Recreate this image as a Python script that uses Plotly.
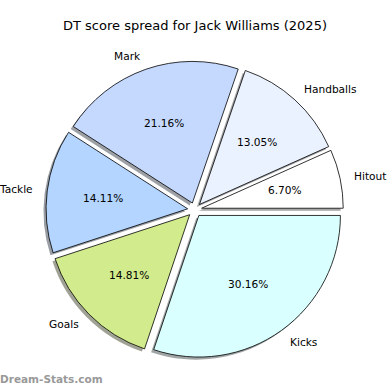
import math
import plotly.graph_objects as go

# ---- data ----
categories = ["Hitout", "Handballs", "Mark", "Tackle", "Goals", "Kicks"]
values = [6.70, 13.05, 21.16, 14.11, 14.81, 30.16]
colors = ["#ffffff", "#eaf1ff", "#c5d9ff", "#b3d5ff", "#d2eb8c", "#d9ffff"]
title_text = "DT score spread for Jack Williams (2025)"
watermark = "Dream-Stats.com"

# ---- geometry (pixels, figure is 390x390 with zero margins) ----
W = H = 390
CX, CY = 194.7, 209.7      # pie centre (from top-left)
R = 141.6                  # pie radius
PULL = 0.05
SH = 2.6                   # shadow offset (left / down) in px

total = sum(values)
# plotly counterclockwise: first slice ends (clockwise sense) at `rotation`;
# we want the first slice to start at 3 o'clock like matplotlib startangle=0
ROT = 90 - values[0] / total * 360

box = R * 2 * (1 + PULL)
def dom(cx, cy):
    yu = H - cy
    return dict(x=[(cx - box / 2) / W, (cx + box / 2) / W],
                y=[(yu - box / 2) / H, (yu + box / 2) / H])

def shadow_col(hexc):
    r, g, b = (int(hexc[i:i + 2], 16) for i in (1, 3, 5))
    return f"rgba({int(r*0.3)},{int(g*0.3)},{int(b*0.3)},0.5)"

fig = go.Figure()
fig.add_trace(go.Pie(
    values=values, labels=categories, sort=False, direction="counterclockwise",
    rotation=ROT, pull=[PULL] * len(values), textinfo="none", hoverinfo="skip",
    marker=dict(colors=[shadow_col(c) for c in colors], line=dict(width=0)),
    domain=dom(CX - SH, CY + SH), showlegend=False,
))
fig.add_trace(go.Pie(
    values=values, labels=categories, sort=False, direction="counterclockwise",
    rotation=ROT, pull=[PULL] * len(values), textinfo="none",
    marker=dict(colors=colors, line=dict(color="black", width=0.8)),
    domain=dom(CX, CY), showlegend=False,
))

# ---- labels & percentages positioned from the data angles ----
annotations = []
cum = 0.0
FONT = dict(family="DejaVu Sans", size=10.6, color="black")
for name, v in zip(categories, values):
    mid = math.radians((cum + v / 2) / total * 360)
    cum += v
    c, s = math.cos(mid), math.sin(mid)
    lx = CX + (1.1 + PULL) * R * c
    ly = CY - (1.1 + PULL) * R * s
    annotations.append(dict(
        x=lx / W, y=1 - ly / H, xref="paper", yref="paper", text=name,
        showarrow=False, xanchor="left" if c > 0 else "right", yanchor="middle",
        borderpad=0, borderwidth=0, font=FONT))
    px = CX + (0.6 + PULL) * R * c
    py = CY - (0.6 + PULL) * R * s
    annotations.append(dict(
        x=px / W, y=1 - py / H, xref="paper", yref="paper",
        text=f"{v / total * 100:.2f}%", showarrow=False,
        xanchor="center", yanchor="middle", borderpad=0, borderwidth=0,
        font=FONT))

annotations.append(dict(
    x=0.5, y=1 - 26 / H, xref="paper", yref="paper", text=title_text,
    showarrow=False, xanchor="center", yanchor="middle",
    font=dict(family="DejaVu Sans", size=13, color="black")))
annotations.append(dict(
    x=0, y=1 - 379 / H, xref="paper", yref="paper", text=f"<b>{watermark}</b>",
    showarrow=False, xanchor="left", yanchor="middle", borderpad=0, borderwidth=0,
    font=dict(family="DejaVu Sans", size=10.5, color="#999999")))

fig.update_layout(
    width=W, height=H, margin=dict(l=0, r=0, t=0, b=0),
    paper_bgcolor="white", plot_bgcolor="white",
    annotations=annotations,
)
fig.write_html("out.html", config={"displayModeBar": False},
               post_script="document.body.style.margin='0';document.body.style.overflow='hidden';")
